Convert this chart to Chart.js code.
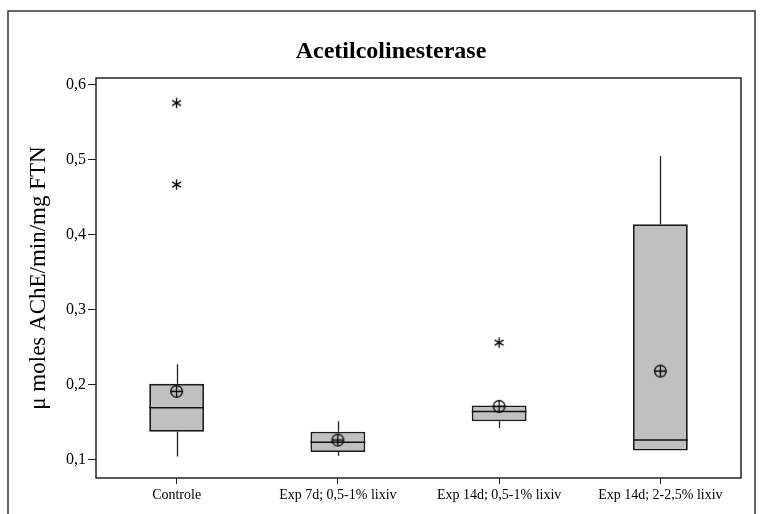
<!DOCTYPE html>
<html>
<head>
<meta charset="utf-8">
<script src="https://cdn.jsdelivr.net/npm/chart.js@4.4.1/dist/chart.umd.min.js"></script>
<style>
  html, body { margin: 0; padding: 0; background: #fff; }
  #wrap { width: 760px; height: 514px; position: relative; }
</style>
</head>
<body>
<div id="wrap"><canvas id="c" width="760" height="514"></canvas></div>
<script>
// ---- data ----
const categories = ['Controle', 'Exp 7d; 0,5-1% lixiv', 'Exp 14d; 0,5-1% lixiv', 'Exp 14d; 2-2,5% lixiv'];
const q1Values      = [0.137, 0.110, 0.151, 0.112];
const q3Values      = [0.201, 0.137, 0.172, 0.414];
const medianValues  = [0.169, 0.123, 0.164, 0.126];
const whiskerLow    = [0.104, 0.105, 0.142, 0.112];
const whiskerHigh   = [0.227, 0.151, 0.172, 0.505];
const meanValues    = [0.191, 0.126, 0.171, 0.218];
const outlierCats   = ['Controle', 'Controle', 'Exp 14d; 0,5-1% lixiv'];
const outlierValues = [0.576, 0.467, 0.256];
const yTicks        = [0.1, 0.2, 0.3, 0.4, 0.5, 0.6];
const titleText     = 'Acetilcolinesterase';
const yAxisTitle    = 'μ moles AChE/min/mg FTN';

// ---- marker images ----
function meanMarker() {
  const c = document.createElement('canvas');
  c.width = 15; c.height = 15;
  const g = c.getContext('2d');
  g.strokeStyle = '#000'; g.lineWidth = 1.3;
  g.beginPath(); g.arc(7.5, 7.5, 5.8, 0, Math.PI * 2); g.stroke();
  g.beginPath(); g.moveTo(7.5, 1.5); g.lineTo(7.5, 13.5); g.moveTo(1.5, 7.5); g.lineTo(13.5, 7.5); g.stroke();
  return c;
}
function starMarker() {
  const c = document.createElement('canvas');
  c.width = 13; c.height = 13;
  const g = c.getContext('2d');
  g.strokeStyle = '#000'; g.lineWidth = 1.3;
  const r = 5.2, cx = 6.5, cy = 6.5;
  g.beginPath();
  [90, 30, 150].forEach(a => {
    const t = a * Math.PI / 180;
    g.moveTo(cx - r * Math.cos(t), cy - r * Math.sin(t));
    g.lineTo(cx + r * Math.cos(t), cy + r * Math.sin(t));
  });
  g.stroke();
  return c;
}

const serif = '"Liberation Serif", "Times New Roman", serif';

const boxPlugin = {
  id: 'boxExtras',
  beforeDraw(chart) {
    const ctx = chart.ctx;
    ctx.save();
    ctx.fillStyle = '#fff';
    ctx.fillRect(0, 0, chart.width, chart.height);
    // outer frame
    ctx.strokeStyle = '#333';
    ctx.lineWidth = 1.5;
    ctx.beginPath();
    ctx.moveTo(8, 514); ctx.lineTo(8, 11); ctx.lineTo(755, 11); ctx.lineTo(755, 514);
    ctx.stroke();
    // title
    ctx.fillStyle = '#000';
    ctx.font = 'bold 24px ' + serif;
    ctx.textAlign = 'center';
    ctx.textBaseline = 'middle';
    ctx.fillText(titleText, 391, 52);
    ctx.restore();
  },
  beforeDatasetsDraw(chart) {
    const ctx = chart.ctx, x = chart.scales.x, y = chart.scales.y;
    ctx.save();
    ctx.strokeStyle = '#222';
    ctx.lineWidth = 1.3;
    categories.forEach((cat, i) => {
      const px = Math.round(x.getPixelForValue(i)) + 0.5;
      ctx.beginPath();
      ctx.moveTo(px, y.getPixelForValue(whiskerHigh[i]));
      ctx.lineTo(px, y.getPixelForValue(q3Values[i]));
      ctx.moveTo(px, y.getPixelForValue(q1Values[i]));
      ctx.lineTo(px, y.getPixelForValue(whiskerLow[i]));
      ctx.stroke();
    });
    ctx.restore();
  },
  afterDatasetDraw(chart, args) {
    if (args.index !== 0) return;
    const ctx = chart.ctx, y = chart.scales.y;
    const meta = chart.getDatasetMeta(0);
    ctx.save();
    ctx.strokeStyle = '#111';
    ctx.lineWidth = 1.6;
    meta.data.forEach((bar, i) => {
      const py = y.getPixelForValue(medianValues[i]);
      ctx.beginPath();
      ctx.moveTo(bar.x - bar.width / 2, py);
      ctx.lineTo(bar.x + bar.width / 2, py);
      ctx.stroke();
    });
    ctx.restore();
  },
  afterDraw(chart) {
    const ctx = chart.ctx, a = chart.chartArea;
    ctx.save();
    ctx.strokeStyle = '#222';
    ctx.lineWidth = 1.5;
    ctx.strokeRect(a.left, a.top, a.right - a.left, a.bottom - a.top);
    ctx.restore();
  }
};

new Chart(document.getElementById('c'), {
  type: 'bar',
  data: {
    labels: categories,
    datasets: [
      {
        type: 'bar',
        data: categories.map((c, i) => [q1Values[i], q3Values[i]]),
        backgroundColor: '#c0c0c0',
        borderColor: '#1a1a1a',
        borderWidth: 1.8,
        borderSkipped: false,
        barPercentage: 0.34,
        categoryPercentage: 1,
        order: 3
      },
      {
        type: 'line',
        data: meanValues,
        showLine: false,
        pointStyle: meanMarker(),
        pointRadius: 7,
        order: 1
      },
      {
        type: 'line',
        data: outlierCats.map((c, i) => ({ x: c, y: outlierValues[i] })),
        showLine: false,
        pointStyle: starMarker(),
        pointRadius: 6,
        order: 2
      }
    ]
  },
  options: {
    responsive: false,
    animation: false,
    devicePixelRatio: 1,
    layout: { padding: { left: 0, right: 19, top: 78, bottom: 0 } },
    plugins: { legend: { display: false }, title: { display: false }, tooltip: { enabled: false } },
    scales: {
      x: {
        type: 'category',
        offset: true,
        grid: { offset: false, drawOnChartArea: false, drawTicks: true, tickLength: 6, color: '#222', lineWidth: 1 },
        border: { display: false },
        ticks: { color: '#000', font: { family: serif, size: 14 }, padding: 3, maxRotation: 0, autoSkip: false },
        afterFit(s) { s.height = 36; }
      },
      y: {
        min: 0.0753,
        max: 0.6093,
        grid: { drawOnChartArea: false, drawTicks: true, tickLength: 8, color: '#222', lineWidth: 1 },
        border: { display: false },
        afterBuildTicks(s) { s.ticks = yTicks.map(v => ({ value: v })); },
        ticks: {
          color: '#000',
          font: { family: serif, size: 16 },
          padding: 2,
          callback: v => Number(v).toFixed(1).replace('.', ',')
        },
        title: {
          display: true,
          text: yAxisTitle,
          color: '#000',
          font: { family: serif, size: 23 },
          padding: { top: 25, bottom: 0 }
        },
        afterFit(s) { s.width = 96; }
      }
    }
  },
  plugins: [boxPlugin]
});
</script>
</body>
</html>
